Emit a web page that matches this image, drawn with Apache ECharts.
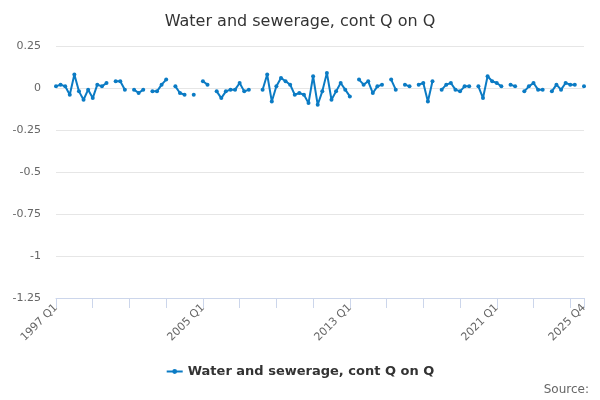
<!DOCTYPE html>
<html>
<head>
<meta charset="utf-8">
<title>Water and sewerage, cont Q on Q</title>
<script src="https://cdn.jsdelivr.net/npm/echarts@6/dist/echarts.min.js"></script>
<style>
  html, body { margin: 0; padding: 0; background: #fff; }
  #chart { width: 600px; height: 400px; }
</style>
</head>
<body>
<div id="chart"></div>
<script>
// quarters 1997 Q1 .. 2025 Q4
const years = [];
for (let y = 1997; y <= 2025; y++) years.push(y);
const quarters = [];
years.forEach(y => {
  ['Q1', 'Q2', 'Q3', 'Q4'].forEach(q => quarters.push(y + ' ' + q));
});

// contribution, quarter on quarter (null = no value shown)
const values = [
  0.01, 0.02, 0.01, -0.04, 0.08, -0.02, -0.07, -0.01, -0.06, 0.02,
  0.01, 0.03, null, 0.04, 0.04, -0.01, null, -0.01, -0.03, -0.01,
  null, -0.02, -0.02, 0.02, 0.05, null, 0.01, -0.03, -0.04, null,
  -0.04, null, 0.04, 0.02, null, -0.02, -0.06, -0.02, -0.01, -0.01,
  0.03, -0.02, -0.01, null, null, -0.01, 0.08, -0.08, 0.01, 0.06,
  0.04, 0.02, -0.04, -0.03, -0.04, -0.09, 0.07, -0.10, -0.02, 0.09,
  -0.07, -0.02, 0.03, -0.01, -0.05, null, 0.05, 0.02, 0.04, -0.03,
  0.01, 0.02, null, 0.05, -0.01, null, 0.02, 0.01, null, 0.02,
  0.03, -0.08, 0.04, null, -0.01, 0.02, 0.03, -0.01, -0.02, 0.01,
  0.01, null, 0.01, -0.06, 0.07, 0.04, 0.03, 0.01, null, 0.02,
  0.01, null, -0.02, 0.01, 0.03, -0.01, -0.01, null, -0.02, 0.02,
  -0.01, 0.03, 0.02, 0.02, null, 0.01
];

const seriesName = 'Water and sewerage, cont Q on Q';
const lastIdx = quarters.length - 1;

const chart = echarts.init(document.getElementById('chart'));

const option = {
  animation: false,
  textStyle: { fontFamily: 'DejaVu Sans' },
  title: {
    text: seriesName,
    left: 'center',
    top: 9,
    textStyle: {
      color: '#333',
      fontSize: 16,
      fontWeight: 'normal',
      fontFamily: 'DejaVu Sans'
    }
  },
  graphic: [{
    type: 'text',
    right: 11,
    bottom: 4,
    style: {
      text: 'Source:',
      fill: '#666',
      fontSize: 12,
      fontFamily: 'DejaVu Sans'
    }
  }],
  legend: {
    bottom: 17,
    left: 'center',
    itemWidth: 16,
    itemHeight: 6,
    textStyle: {
      color: '#333',
      fontSize: 13,
      fontWeight: 'bold',
      fontFamily: 'DejaVu Sans'
    },
    data: [seriesName]
  },
  grid: {
    left: 56,
    right: 16,
    top: 46,
    bottom: 102,
    containLabel: false
  },
  xAxis: {
    type: 'category',
    data: quarters,
    boundaryGap: false,
    axisLine: { onZero: false, lineStyle: { color: '#ccd6eb' } },
    axisTick: {
      length: 10,
      lineStyle: { color: '#ccd6eb' },
      interval: function (i) { return i % 8 === 0 || i === lastIdx; }
    },
    axisLabel: {
      rotate: 45,
      color: '#666',
      fontSize: 11,
      margin: 8,
      interval: function (i) { return i % 32 === 0 || i === lastIdx; }
    },
    splitLine: { show: false }
  },
  yAxis: {
    type: 'value',
    min: -1.25,
    max: 0.25,
    interval: 0.25,
    axisLine: { show: false },
    axisTick: { show: false },
    axisLabel: {
      color: '#666',
      fontSize: 11,
      margin: 15
    },
    splitLine: { lineStyle: { color: '#e6e6e6' } }
  },
  series: [{
    name: seriesName,
    type: 'line',
    data: values,
    connectNulls: false,
    showSymbol: true,
    showAllSymbol: true,
    symbol: 'circle',
    symbolSize: 4,
    itemStyle: { color: '#0b7bc4' },
    lineStyle: { color: '#0b7bc4', width: 2 }
  }]
};

chart.setOption(option);
</script>
</body>
</html>
